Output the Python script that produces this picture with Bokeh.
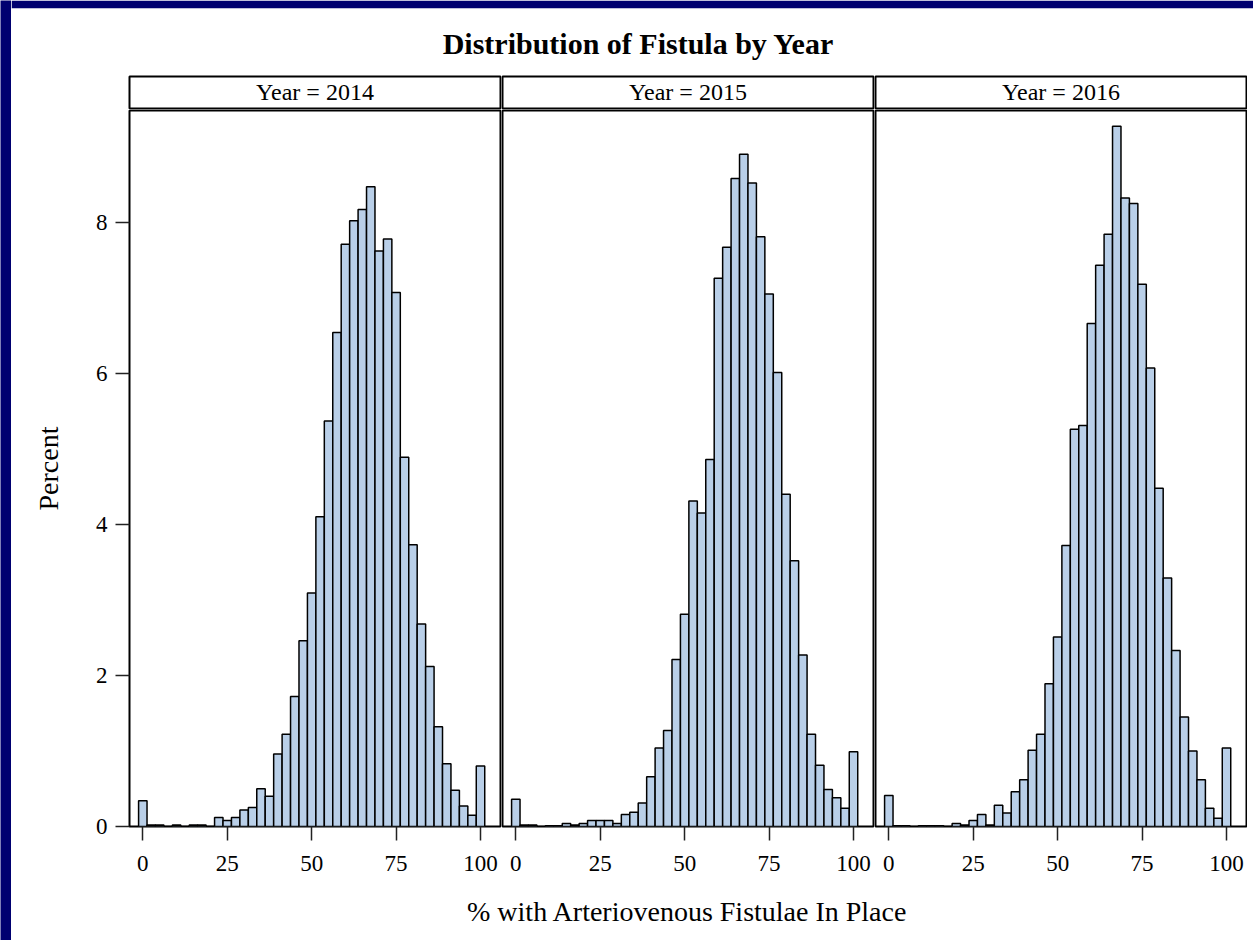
from bokeh.plotting import figure
from bokeh.layouts import column, row
from bokeh.models import FixedTicker, Label, Range1d
from bokeh.embed import file_html
from bokeh.resources import INLINE

# ---------------- data ----------------
bins = [0, 2.5, 5, 7.5, 10, 12.5, 15, 17.5, 20, 22.5, 25, 27.5, 30, 32.5, 35,
        37.5, 40, 42.5, 45, 47.5, 50, 52.5, 55, 57.5, 60, 62.5, 65, 67.5, 70,
        72.5, 75, 77.5, 80, 82.5, 85, 87.5, 90, 92.5, 95, 97.5, 100]

years = ["2014", "2015", "2016"]

pct_2014 = [0.34, 0.02, 0.02, 0.0, 0.02, 0.0, 0.02, 0.02, 0.0, 0.12, 0.08,
            0.12, 0.22, 0.25, 0.50, 0.40, 0.96, 1.22, 1.72, 2.46, 3.09, 4.10,
            5.37, 6.54, 7.71, 8.02, 8.17, 8.47, 7.62, 7.78, 7.07, 4.89, 3.73,
            2.68, 2.12, 1.32, 0.83, 0.48, 0.27, 0.15, 0.80]

pct_2015 = [0.36, 0.02, 0.02, 0.0, 0.01, 0.01, 0.04, 0.02, 0.04, 0.08, 0.08,
            0.08, 0.04, 0.16, 0.19, 0.31, 0.66, 1.04, 1.27, 2.21, 2.81, 4.31,
            4.15, 4.86, 7.26, 7.67, 8.58, 8.90, 8.52, 7.81, 7.05, 6.01, 4.40,
            3.52, 2.27, 1.22, 0.81, 0.49, 0.38, 0.24, 0.99]

pct_2016 = [0.41, 0.01, 0.01, 0.0, 0.01, 0.01, 0.01, 0.0, 0.04, 0.02, 0.08,
            0.16, 0.02, 0.28, 0.18, 0.46, 0.62, 1.01, 1.22, 1.89, 2.51, 3.72,
            5.26, 5.31, 6.66, 7.43, 7.84, 9.27, 8.32, 8.25, 7.18, 6.07, 4.48,
            3.29, 2.33, 1.45, 1.00, 0.62, 0.24, 0.11, 1.04]

series = [pct_2014, pct_2015, pct_2016]

x_ticks = [0, 25, 50, 75, 100]
y_ticks = [0, 2, 4, 6, 8]

title_text = "Distribution of Fistula by Year"
x_label = "% with Arteriovenous Fistulae In Place"
y_label = "Percent"

# ---------------- style / layout ----------------
FONT = "Liberation Serif"
BAR_FILL = "#B9CFE8"
NAVY = "#000070"
PX_PER_UNIT = 3.377
X_START = -3.94
Y_END = 9.48
BIN_W = 2.5

frame_w = [371, 371, 371]
left_b = [118, 1, 1]
right_b = [1, 1, 1]
FRAME_H = 716
TOTAL_W = 1242


def bare(fig):
    fig.axis.visible = False
    fig.grid.visible = False
    fig.outline_line_color = None
    return fig


# navy slide edge on the left
strip = bare(figure(width=11, height=940, toolbar_location=None, output_backend="svg",
                    min_border=0, background_fill_color=NAVY, border_fill_color=NAVY))

# ---------------- title (navy slide band on top) ----------------
tfig = bare(figure(width=TOTAL_W, height=75, x_range=Range1d(11, 1253),
                   y_range=Range1d(75, 8), toolbar_location=None, output_backend="svg",
                   min_border=0, min_border_top=8, border_fill_color=NAVY,
                   background_fill_color="white"))
tfig.add_layout(Label(x=638, y=43, text=title_text, text_align="center",
                      text_baseline="middle", text_font=FONT,
                      text_font_style="bold", text_font_size="30px",
                      text_color="black"))

headers = []
plots = []
for i, yr in enumerate(years):
    # header strip
    h = figure(frame_width=frame_w[i], frame_height=32, x_range=(0, 1),
               y_range=Range1d(108, 76), toolbar_location=None, output_backend="svg",
               min_border_left=left_b[i], min_border_right=right_b[i],
               min_border_top=1, min_border_bottom=1)
    h.axis.visible = False
    h.grid.visible = False
    h.outline_line_color = "black"
    h.outline_line_width = 2
    h.add_layout(Label(x=0.5, y=91.5, text=f"Year = {yr}", text_align="center",
                       text_baseline="middle", text_font=FONT,
                       text_font_size="24px", text_color="black"))
    headers.append(h)

    # histogram panel
    x_end = X_START + frame_w[i] / PX_PER_UNIT
    p = figure(frame_width=frame_w[i], frame_height=FRAME_H,
               x_range=Range1d(X_START, x_end), y_range=Range1d(0, Y_END),
               toolbar_location=None, output_backend="svg",
               min_border_left=left_b[i], min_border_right=right_b[i],
               min_border_top=1, min_border_bottom=62)
    p.vbar(x=bins, top=series[i], bottom=0, width=BIN_W,
           fill_color=BAR_FILL, line_color="black", line_width=1.5)
    p.grid.visible = False
    p.outline_line_color = "black"
    p.outline_line_width = 2

    xa = p.xaxis[0]
    xa.ticker = FixedTicker(ticks=x_ticks)
    xa.axis_line_color = None
    xa.major_tick_out = 14
    xa.major_tick_in = 0
    xa.minor_tick_out = 0
    xa.minor_tick_in = 0
    xa.major_tick_line_color = "#222222"
    xa.major_tick_line_width = 1.5
    xa.major_label_standoff = 15
    xa.major_label_text_font = FONT
    xa.major_label_text_font_size = "23px"
    xa.major_label_text_color = "black"

    ya = p.yaxis[0]
    if i == 0:
        ya.ticker = FixedTicker(ticks=y_ticks)
        ya.axis_line_color = None
        ya.major_tick_out = 14
        ya.major_tick_in = 0
        ya.minor_tick_out = 0
        ya.minor_tick_in = 0
        ya.major_tick_line_color = "#222222"
        ya.major_tick_line_width = 1.5
        ya.major_label_standoff = 8
        ya.major_label_text_font = FONT
        ya.major_label_text_font_size = "23px"
        ya.major_label_text_color = "black"
        ya.axis_label = y_label
        ya.axis_label_text_font = FONT
        ya.axis_label_text_font_size = "28px"
        ya.axis_label_text_font_style = "normal"
        ya.axis_label_text_color = "black"
        ya.axis_label_standoff = 29
    else:
        ya.visible = False
    plots.append(p)

# ---------------- shared x-axis label ----------------
bfig = bare(figure(width=TOTAL_W, height=52, x_range=Range1d(11, 1253),
                   y_range=Range1d(940, 888), toolbar_location=None,
                   output_backend="svg", min_border=0))
bfig.add_layout(Label(x=687, y=911, text=x_label, text_align="center",
                      text_baseline="middle", text_font=FONT,
                      text_font_size="28px", text_color="black"))

layout = row(strip, column(tfig, row(*headers), row(*plots), bfig))
open("out.html", "w").write(file_html(layout, INLINE))
